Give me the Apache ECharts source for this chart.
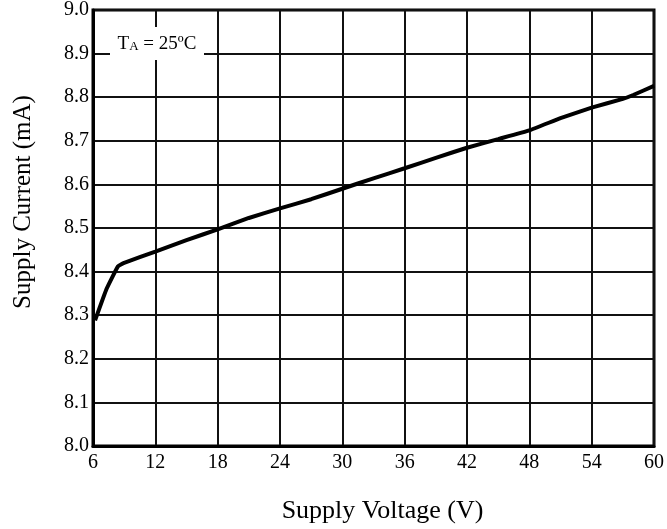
<!DOCTYPE html>
<html>
<head>
<meta charset="utf-8">
<script src="https://cdn.jsdelivr.net/npm/echarts@6/dist/echarts.min.js"></script>
<style>
  html, body { margin: 0; padding: 0; background: #fff; }
  #main { width: 667px; height: 529px; }
</style>
</head>
<body>
<div id="main"></div>
<script>
// supply voltage (V) vs supply current (mA)
var voltage = [6.2, 7.3, 8.4, 9.0, 12, 15, 18, 21, 24, 27, 30, 33, 36, 39, 42, 45, 48, 51, 54, 57, 58, 60];
var current = [8.288, 8.36, 8.412, 8.42, 8.446, 8.472, 8.497, 8.523, 8.545, 8.566, 8.590, 8.614, 8.637, 8.661, 8.684, 8.704, 8.724, 8.752, 8.776, 8.796, 8.805, 8.826];

var xName = 'Supply Voltage (V)';
var yName = 'Supply Current (mA)';
var font = '"Liberation Serif", "Times New Roman", serif';

var points = voltage.map(function (v, i) { return [v, current[i]]; });

var myChart = echarts.init(document.getElementById('main'));

var option = {
    animation: false,
    grid: {
        left: 93, right: 7, top: 9, bottom: 83,
        show: true,
        borderColor: '#000',
        borderWidth: 3
    },
    xAxis: {
        type: 'value',
        min: 6,
        max: 60,
        interval: 6,
        name: xName,
        nameLocation: 'middle',
        nameGap: 52,
        nameTextStyle: { fontFamily: font, fontSize: 26, color: '#000', padding: [0, 0, 0, 18] },
        axisLine: { lineStyle: { color: '#000', width: 3 } },
        axisTick: { show: false },
        axisLabel: { fontFamily: font, fontSize: 20, color: '#000', margin: 7 },
        splitLine: { lineStyle: { color: '#111', width: 2 } }
    },
    yAxis: {
        type: 'value',
        min: 8,
        max: 9,
        interval: 0.1,
        name: yName,
        nameLocation: 'middle',
        nameGap: 57,
        nameTextStyle: { fontFamily: font, fontSize: 25, color: '#000', padding: [0, 0, 0, 52] },
        axisLine: { lineStyle: { color: '#000', width: 3 } },
        axisTick: { show: false },
        axisLabel: {
            fontFamily: font, fontSize: 20, color: '#000', margin: 4,
            formatter: function (v) { return v.toFixed(1); }
        },
        splitLine: { lineStyle: { color: '#111', width: 2 } }
    },
    graphic: [{
        type: 'rect',
        shape: { x: 110, y: 27, width: 94, height: 33 },
        style: { fill: '#fff' },
        z: 100
    }, {
        type: 'text',
        x: 157,
        y: 44,
        z: 101,
        style: {
            text: '{t|T}{s|A}{t| = 25ºC}',
            align: 'center',
            verticalAlign: 'middle',
            rich: {
                t: { fontFamily: font, fontSize: 19, fill: '#000' },
                s: { fontFamily: font, fontSize: 13, fill: '#000', verticalAlign: 'bottom' }
            }
        }
    }],
    series: [{
        type: 'line',
        data: points,
        smooth: 0.1,
        showSymbol: false,
        lineStyle: { color: '#000', width: 4 }
    }]
};

myChart.setOption(option);
</script>
</body>
</html>
